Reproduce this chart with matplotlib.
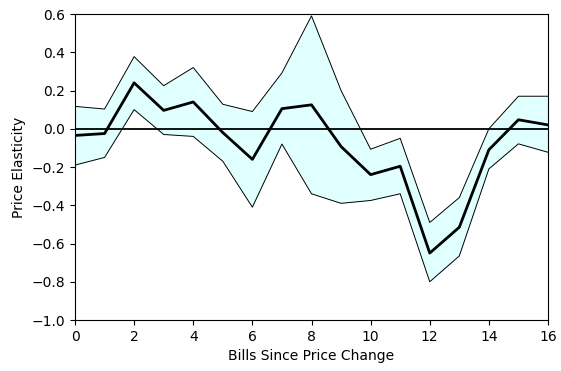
import matplotlib
matplotlib.use("Agg")
import matplotlib.pyplot as plt
import numpy as np

bills = np.arange(17)
elasticity = [-0.035, -0.025, 0.24, 0.096, 0.14, -0.02, -0.16, 0.105, 0.125,
              -0.093, -0.24, -0.196, -0.65, -0.515, -0.11, 0.047, 0.02]
upper = [0.117, 0.103, 0.377, 0.225, 0.32, 0.128, 0.09, 0.292, 0.59,
         0.20, -0.107, -0.05, -0.49, -0.36, 0.0, 0.17, 0.17]
lower = [-0.19, -0.15, 0.10, -0.03, -0.04, -0.17, -0.41, -0.08, -0.34,
         -0.39, -0.375, -0.34, -0.80, -0.665, -0.21, -0.079, -0.123]

fig = plt.figure(figsize=(5.61, 3.71), dpi=100)
ax = fig.add_axes([75 / 561, 1 - 320 / 371, (548 - 75) / 561, (320 - 14) / 371])

# confidence band
ax.fill_between(bills, lower, upper, color="lightcyan", linewidth=0)
ax.plot(bills, upper, color="black", lw=0.7)
ax.plot(bills, lower, color="black", lw=0.7)
ax.axhline(0, color="black", lw=1.3)
ax.plot(bills, elasticity, color="black", lw=2)

ax.set_xlim(0, 16)
ax.set_ylim(-1.0, 0.6)
ax.set_xticks(np.arange(0, 17, 2))
ax.set_yticks(np.arange(-1.0, 0.61, 0.2))
ax.set_xlabel("Bills Since Price Change")
ax.set_ylabel("Price Elasticity")

fig.savefig("out.png", dpi=100)
